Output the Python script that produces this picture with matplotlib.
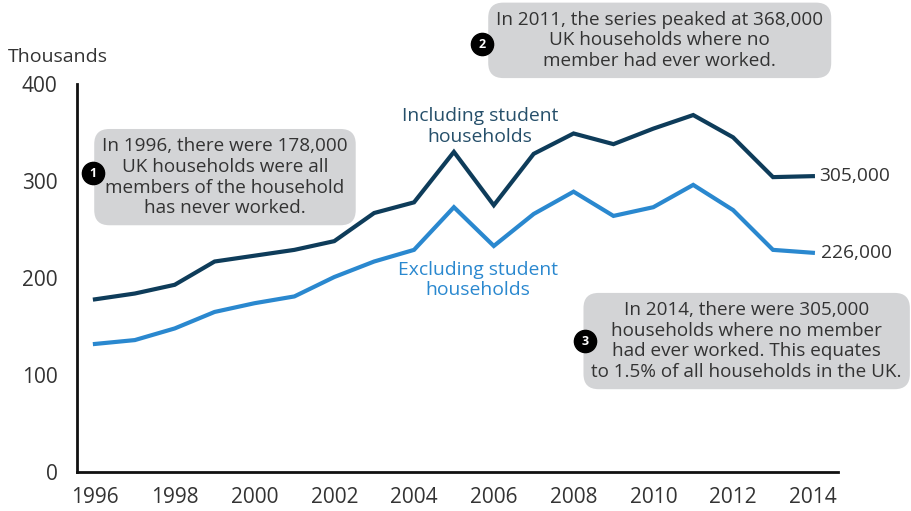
import matplotlib
matplotlib.use("Agg")
import matplotlib.pyplot as plt

plt.rcParams["font.family"] = ["Open Sans", "DejaVu Sans"]

# UK households where no member has ever worked, thousands
years = list(range(1996, 2015))
incl_students = [178, 184, 193, 217, 223, 229, 238, 267, 278, 330, 275, 328, 349, 338, 354, 368, 345, 304, 305]
excl_students = [132, 136, 148, 165, 174, 181, 201, 217, 229, 273, 233, 266, 289, 264, 273, 296, 270, 229, 226]
xticks = list(range(1996, 2015, 2))
yticks = [0, 100, 200, 300, 400]

NAVY = "#0e3c5a"
BLUE = "#2a88cf"
BOX = "#d3d4d6"
TXT = "#333333"

fig = plt.figure(figsize=(9.12, 5.11), dpi=100)
ax = fig.add_axes([77 / 912, 39 / 511, 761 / 912, 388 / 511])

ax.plot(years, incl_students, color=NAVY, lw=3, solid_joinstyle="miter", zorder=3)
ax.plot(years, excl_students, color=BLUE, lw=3, solid_joinstyle="miter", zorder=3)

ax.set_xlim(1995.55, 2014.63)
ax.set_ylim(0, 400)
ax.set_xticks(xticks)
ax.set_yticks(yticks)
ax.tick_params(length=0, labelsize=15, labelcolor=TXT)
ax.tick_params(axis="y", pad=14)
ax.tick_params(axis="x", pad=11)
for s in ("top", "right"):
    ax.spines[s].set_visible(False)
for s in ("left", "bottom"):
    ax.spines[s].set_linewidth(2)
    ax.spines[s].set_color("#111111")

fig.text(8 / 912, 1 - 57 / 511, "Thousands", fontsize=14, color=TXT, ha="left", va="center")

# series labels
ax.text(2005.65, 356, "Including student\nhouseholds", color=NAVY, fontsize=13.9,
        ha="center", va="center", linespacing=1.2, alpha=0.9)
ax.text(2005.6, 198, "Excluding student\nhouseholds", color=BLUE, fontsize=13.9,
        ha="center", va="center", linespacing=1.2)
ax.text(2014.17, incl_students[-1], f"{incl_students[-1]},000", color=TXT, fontsize=13.8,
        ha="left", va="center")
ax.text(2014.2, excl_students[-1], f"{excl_students[-1]},000", color=TXT, fontsize=13.8,
        ha="left", va="center")

# numbered call-out boxes
notes = [
    (1999.26, 304, "In 1996, there were 178,000\nUK households were all\nmembers of the household\nhas never worked.",
     1995.95, 308, "1"),
    (2010.16, 445, "In 2011, the series peaked at 368,000\nUK households where no\nmember had ever worked.",
     2005.7, 441, "2"),
    (2012.34, 135, "In 2014, there were 305,000\nhouseholds where no member\nhad ever worked. This equates\nto 1.5% of all households in the UK.",
     2008.28, 135, "3"),
]
for tx, ty, txt, cx, cy, num in notes:
    ax.text(tx, ty, txt, fontsize=13.6, color=TXT, ha="center", va="center",
            linespacing=1.2, clip_on=False, zorder=4,
            bbox=dict(boxstyle="round,pad=0.42,rounding_size=0.8", fc=BOX, ec="none"))
    ax.plot([cx], [cy], "o", ms=16, color="black", clip_on=False, zorder=5)
    ax.text(cx, cy, num, color="white", fontsize=9, fontweight="bold",
            ha="center", va="center", clip_on=False, zorder=6)

fig.savefig("out.png", dpi=100)
